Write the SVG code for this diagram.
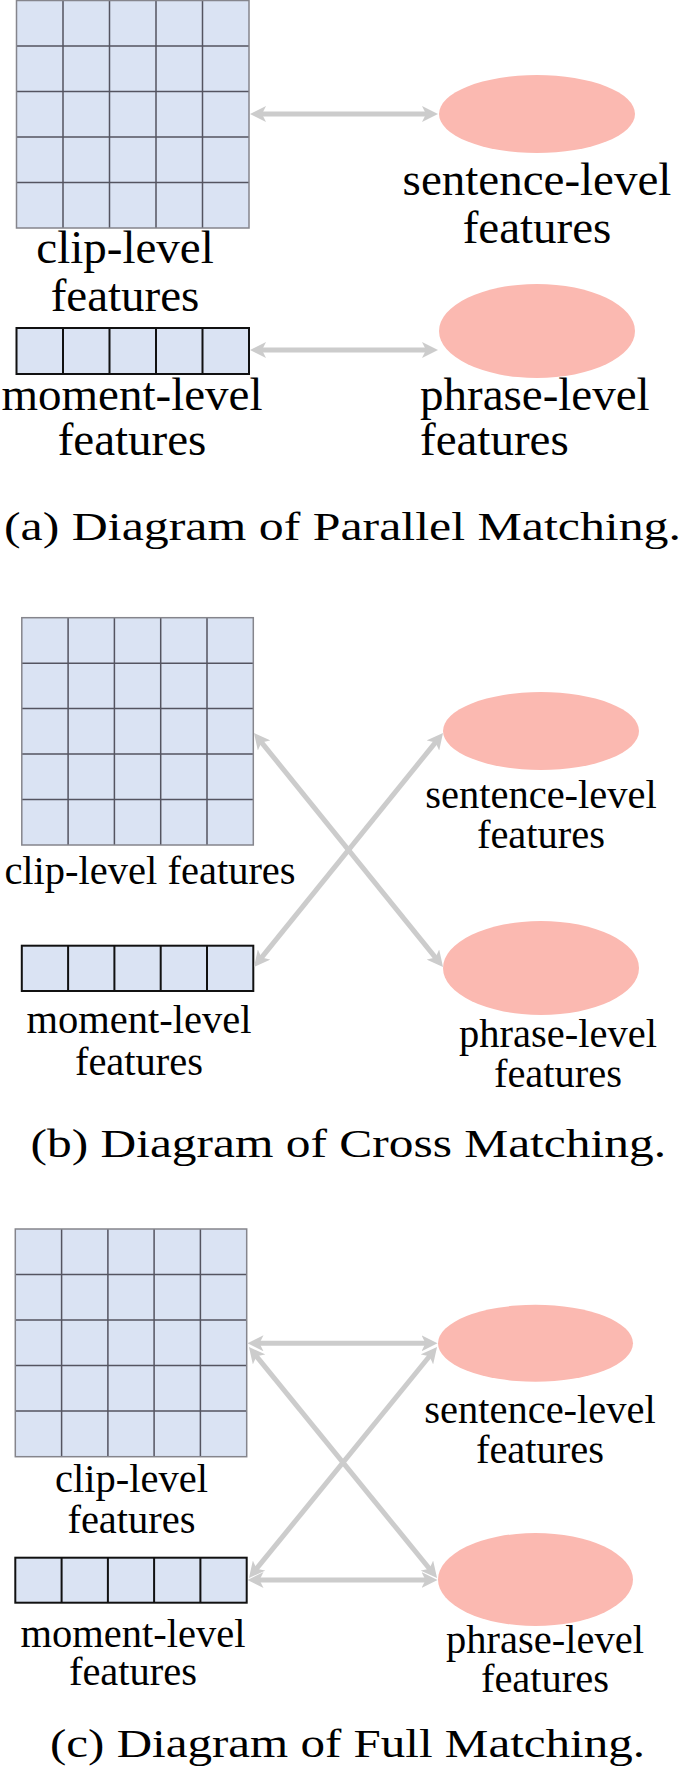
<svg xmlns="http://www.w3.org/2000/svg" width="685" height="1778" viewBox="0 0 685 1778">
<defs>
<style>
.cell{fill:#dae3f3;}
.gin{stroke:#545460;stroke-width:1.5;fill:none;}
.gout{stroke:#85858c;stroke-width:1.5;fill:none;}
.mom{fill:#dae3f3;stroke:#111;stroke-width:2;}
.mline{stroke:#111;stroke-width:2;}
.ell{fill:#fbb9b1;}
.lbl{font-family:"Liberation Serif","Times New Roman",serif;fill:#000;}
.la{font-size:47px;}
.lb{font-size:40.5px;}
.cap{font-family:"Liberation Serif","Times New Roman",serif;font-size:40px;fill:#000;}
.arr{stroke:#cccccc;stroke-width:5;fill:none;marker-start:url(#ah);marker-end:url(#ah);}
</style>
<marker id="ah" markerUnits="userSpaceOnUse" markerWidth="16" markerHeight="16" refX="5" refY="8" orient="auto-start-reverse" viewBox="0 0 16 16">
<path d="M0,0 L16,8 L0,16 L4,8 Z" fill="#cccccc"/>
</marker>
</defs>

<!-- Panel (a) -->
<g id="a-clip">
<rect class="cell" x="16.5" y="0.5" width="232.5" height="227.5"/>
<path class="gin" d="M63,0.5V228 M109.5,0.5V228 M156,0.5V228 M202.5,0.5V228 M16.5,46H249 M16.5,91.5H249 M16.5,137H249 M16.5,182.5H249"/>
<rect class="gout" x="16.5" y="0.5" width="232.5" height="227.5"/>
<text class="lbl la" x="125" y="263" text-anchor="middle">clip-level</text>
<text class="lbl la" x="125" y="311" text-anchor="middle">features</text>
</g>
<g id="a-moment">
<rect class="mom" x="16.5" y="328" width="232.5" height="46"/>
<path class="mline" d="M63,328V374 M109.5,328V374 M156,328V374 M202.5,328V374"/>
<text class="lbl la" x="132" y="410" text-anchor="middle">moment-level</text>
<text class="lbl la" x="132" y="455" text-anchor="middle">features</text>
</g>
<g id="a-sentence">
<ellipse class="ell" cx="537" cy="114" rx="98" ry="39"/>
<text class="lbl la" x="537" y="195" text-anchor="middle">sentence-level</text>
<text class="lbl la" x="537" y="243" text-anchor="middle">features</text>
</g>
<g id="a-phrase">
<ellipse class="ell" cx="537" cy="331" rx="98" ry="47"/>
<text class="lbl la" x="420" y="410">phrase-level</text>
<text class="lbl la" x="420" y="455">features</text>
</g>
<g id="a-connectors">
<line class="arr" x1="261" y1="114" x2="427" y2="114"/>
<line class="arr" x1="261" y1="350" x2="427" y2="350"/>
</g>
<text id="cap-a" class="cap" x="4" y="540" textLength="677" lengthAdjust="spacingAndGlyphs">(a) Diagram of Parallel Matching.</text>

<!-- Panel (b) -->
<g id="b-clip">
<rect class="cell" x="21.8" y="617.7" width="231.5" height="227.3"/>
<path class="gin" d="M68.1,617.7V845 M114.4,617.7V845 M160.7,617.7V845 M207,617.7V845 M21.8,663.2H253.3 M21.8,708.6H253.3 M21.8,754.1H253.3 M21.8,799.5H253.3"/>
<rect class="gout" x="21.8" y="617.7" width="231.5" height="227.3"/>
<text class="lbl lb" x="150" y="884" text-anchor="middle">clip-level features</text>
</g>
<g id="b-moment">
<rect class="mom" x="21.8" y="945.7" width="231.5" height="45.3"/>
<path class="mline" d="M68.1,945.7V991 M114.4,945.7V991 M160.7,945.7V991 M207,945.7V991"/>
<text class="lbl lb" x="139" y="1033" text-anchor="middle">moment-level</text>
<text class="lbl lb" x="139" y="1075" text-anchor="middle">features</text>
</g>
<g id="b-sentence">
<ellipse class="ell" cx="541" cy="731" rx="98" ry="39"/>
<text class="lbl lb" x="541" y="808" text-anchor="middle">sentence-level</text>
<text class="lbl lb" x="541" y="848" text-anchor="middle">features</text>
</g>
<g id="b-phrase">
<ellipse class="ell" cx="541" cy="968" rx="98" ry="47"/>
<text class="lbl lb" x="558" y="1047" text-anchor="middle">phrase-level</text>
<text class="lbl lb" x="558" y="1087" text-anchor="middle">features</text>
</g>
<g id="b-connectors">
<line class="arr" x1="260.9" y1="741.6" x2="436.1" y2="958.4"/>
<line class="arr" x1="436.1" y1="741.6" x2="260.9" y2="958.4"/>
</g>
<text id="cap-b" class="cap" x="30.5" y="1157" textLength="635.5" lengthAdjust="spacingAndGlyphs">(b) Diagram of Cross Matching.</text>

<!-- Panel (c) -->
<g id="c-clip">
<rect class="cell" x="15.3" y="1229" width="231.4" height="227.7"/>
<path class="gin" d="M61.6,1229V1456.7 M107.9,1229V1456.7 M154.1,1229V1456.7 M200.4,1229V1456.7 M15.3,1274.5H246.7 M15.3,1320H246.7 M15.3,1365.6H246.7 M15.3,1411.1H246.7"/>
<rect class="gout" x="15.3" y="1229" width="231.4" height="227.7"/>
<text class="lbl lb" x="131.5" y="1491.7" text-anchor="middle">clip-level</text>
<text class="lbl lb" x="131.5" y="1533" text-anchor="middle">features</text>
</g>
<g id="c-moment">
<rect class="mom" x="15.3" y="1557.7" width="231.4" height="45"/>
<path class="mline" d="M61.6,1557.7V1602.7 M107.9,1557.7V1602.7 M154.1,1557.7V1602.7 M200.4,1557.7V1602.7"/>
<text class="lbl lb" x="133" y="1646.7" text-anchor="middle">moment-level</text>
<text class="lbl lb" x="133" y="1685" text-anchor="middle">features</text>
</g>
<g id="c-sentence">
<ellipse class="ell" cx="535.5" cy="1343.3" rx="97.5" ry="38.5"/>
<text class="lbl lb" x="540" y="1423" text-anchor="middle">sentence-level</text>
<text class="lbl lb" x="540" y="1463" text-anchor="middle">features</text>
</g>
<g id="c-phrase">
<ellipse class="ell" cx="535.5" cy="1579.5" rx="97.5" ry="46.5"/>
<text class="lbl lb" x="545" y="1653" text-anchor="middle">phrase-level</text>
<text class="lbl lb" x="545" y="1691.7" text-anchor="middle">features</text>
</g>
<g id="c-connectors">
<line class="arr" x1="258.5" y1="1343.3" x2="426.5" y2="1343.3"/>
<line class="arr" x1="258.5" y1="1580" x2="426.5" y2="1580"/>
<line class="arr" x1="255.9" y1="1355.5" x2="430.1" y2="1569.5"/>
<line class="arr" x1="430.1" y1="1355.5" x2="255.9" y2="1569.5"/>
</g>
<text id="cap-c" class="cap" x="50" y="1756.7" textLength="595" lengthAdjust="spacingAndGlyphs">(c) Diagram of Full Matching.</text>
</svg>
